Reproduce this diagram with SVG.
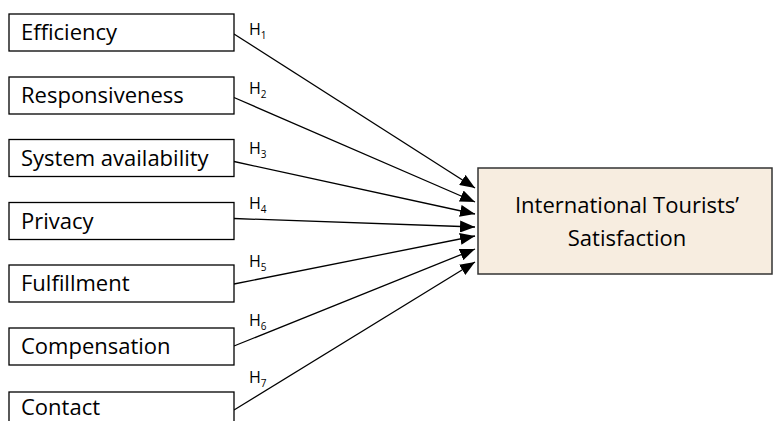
<svg xmlns="http://www.w3.org/2000/svg" width="773" height="421" viewBox="0 0 773 421">
  <style>
    .box { fill: #ffffff; stroke: #000000; stroke-width: 1.3; }
    .target { fill: #F7EDE0; stroke: #333333; stroke-width: 1.5; }
    .lbl { font-family: "Open Sans", "Liberation Sans", sans-serif; font-size: 22px; fill: #000000; }
    .h { font-family: "Open Sans", "Liberation Sans", sans-serif; font-size: 16px; fill: #000000; }
    .sub { font-size: 10px; }
    .edge { stroke: #000000; stroke-width: 1.3; fill: none; marker-end: url(#arrow); }
  </style>
  <defs>
    <marker id="arrow" markerUnits="userSpaceOnUse" markerWidth="16" markerHeight="12" refX="15" refY="6" orient="auto">
      <path d="M0,0 L15,6 L0,12 Z" fill="#000000"/>
    </marker>
  </defs>
  <rect x="0" y="0" width="773" height="421" fill="#ffffff"/>

  <g id="connectors">
    <line class="edge" x1="234" y1="34" x2="475" y2="188"/>
    <line class="edge" x1="234" y1="97.5" x2="475" y2="202"/>
    <line class="edge" x1="234" y1="161.5" x2="475" y2="214"/>
    <line class="edge" x1="234" y1="218.5" x2="475" y2="227"/>
    <line class="edge" x1="234" y1="284" x2="475" y2="236"/>
    <line class="edge" x1="234" y1="346" x2="475" y2="249"/>
    <line class="edge" x1="234" y1="410" x2="475" y2="262"/>
    <text class="h" x="249" y="35">H<tspan class="sub" dy="4">1</tspan></text>
    <text class="h" x="249" y="94">H<tspan class="sub" dy="4">2</tspan></text>
    <text class="h" x="249" y="154">H<tspan class="sub" dy="4">3</tspan></text>
    <text class="h" x="249" y="209">H<tspan class="sub" dy="4">4</tspan></text>
    <text class="h" x="249" y="267">H<tspan class="sub" dy="4">5</tspan></text>
    <text class="h" x="249" y="326">H<tspan class="sub" dy="4">6</tspan></text>
    <text class="h" x="249" y="383">H<tspan class="sub" dy="4">7</tspan></text>
  </g>

  <g id="efficiency">
    <rect class="box" x="9" y="14" width="225" height="37"/>
    <text class="lbl" x="21" y="40">Efficiency</text>
  </g>
  <g id="responsiveness">
    <rect class="box" x="9" y="77" width="225" height="37"/>
    <text class="lbl" x="21" y="103">Responsiveness</text>
  </g>
  <g id="system-availability">
    <rect class="box" x="9" y="139.5" width="225" height="37"/>
    <text class="lbl" x="21" y="165.5">System availability</text>
  </g>
  <g id="privacy">
    <rect class="box" x="9" y="202.5" width="225" height="37"/>
    <text class="lbl" x="21" y="228.5">Privacy</text>
  </g>
  <g id="fulfillment">
    <rect class="box" x="9" y="265" width="225" height="37"/>
    <text class="lbl" x="21" y="291">Fulfillment</text>
  </g>
  <g id="compensation">
    <rect class="box" x="9" y="328" width="225" height="37"/>
    <text class="lbl" x="21" y="354">Compensation</text>
  </g>
  <g id="contact">
    <rect class="box" x="9" y="392" width="225" height="37"/>
    <text class="lbl" x="21" y="415">Contact</text>
  </g>

  <g id="satisfaction">
    <rect class="target" x="478" y="168" width="294" height="106"/>
    <text class="lbl" x="627" y="213" text-anchor="middle">International Tourists’</text>
    <text class="lbl" x="627" y="246" text-anchor="middle">Satisfaction</text>
  </g>
</svg>
